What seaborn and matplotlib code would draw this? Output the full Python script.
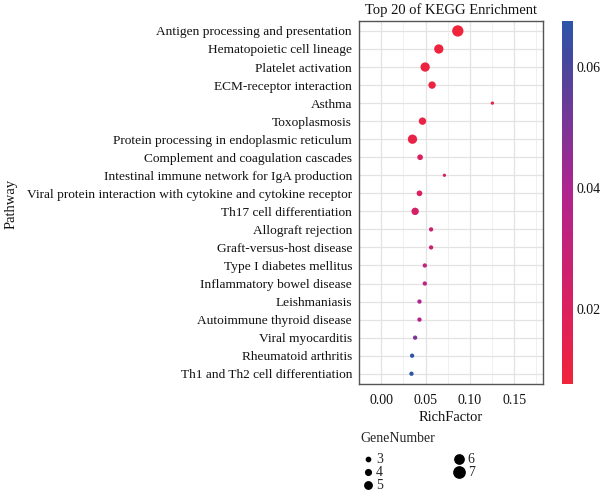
import matplotlib
matplotlib.use("Agg")
import matplotlib.pyplot as plt
import seaborn as sns
import pandas as pd
import numpy as np
from matplotlib.colors import LinearSegmentedColormap, Normalize
from matplotlib.lines import Line2D
from matplotlib.cm import ScalarMappable

pathways = [
    "Antigen processing and presentation",
    "Hematopoietic cell lineage",
    "Platelet activation",
    "ECM-receptor interaction",
    "Asthma",
    "Toxoplasmosis",
    "Protein processing in endoplasmic reticulum",
    "Complement and coagulation cascades",
    "Intestinal immune network for IgA production",
    "Viral protein interaction with cytokine and cytokine receptor",
    "Th17 cell differentiation",
    "Allograft rejection",
    "Graft-versus-host disease",
    "Type I diabetes mellitus",
    "Inflammatory bowel disease",
    "Leishmaniasis",
    "Autoimmune thyroid disease",
    "Viral myocarditis",
    "Rheumatoid arthritis",
    "Th1 and Th2 cell differentiation",
]
rich_factor = [0.0864, 0.0650, 0.0496, 0.0574, 0.1254, 0.0466, 0.0353, 0.0439,
               0.0713, 0.0432, 0.0383, 0.0563, 0.0563, 0.0492, 0.0492, 0.0432,
               0.0432, 0.0383, 0.0349, 0.0342]
gene_number = [7, 6, 6, 5, 2, 5, 6, 4, 2, 4, 5, 3, 3, 3, 3, 3, 3, 3, 3, 3]
pvalue = [0.0078, 0.0095, 0.0100, 0.0105, 0.0110, 0.0115, 0.0125, 0.0200,
          0.0195, 0.0210, 0.0235, 0.0270, 0.0270, 0.0330, 0.0330, 0.0395,
          0.0395, 0.0500, 0.0660, 0.0675]
legend_sizes = [3, 4, 5, 6, 7]
cbar_ticks = [0.02, 0.04, 0.06]
x_ticks = [0.00, 0.05, 0.10, 0.15]

df = pd.DataFrame({"Pathway": pathways, "RichFactor": rich_factor,
                   "GeneNumber": gene_number, "pvalue": pvalue})

cmap = LinearSegmentedColormap.from_list(
    "rb", [(0.0, "#F0243A"), (0.21, "#DA2060"), (0.54, "#AE2490"),
           (0.875, "#4A469C"), (1.0, "#2B55A8")])
norm = Normalize(vmin=0.0077, vmax=0.0676)

diam = {2: 3.3, 3: 4.3, 4: 5.7, 5: 7.4, 6: 9.3, 7: 11.3}
size_map = {v: (d * 0.72) ** 2 for v, d in diam.items()}

fig = plt.figure(figsize=(6.0, 4.92), dpi=100)
sns.set_style("white")
plt.rcParams["font.family"] = ["Liberation Serif", "DejaVu Serif"]

ax = fig.add_axes([0.5983, 0.2195, 0.3072, 0.7385])
sns.scatterplot(data=df, x="RichFactor", y="Pathway", hue="pvalue",
                palette=cmap, hue_norm=norm, size="GeneNumber",
                sizes=size_map, legend=False, linewidth=0, ax=ax, zorder=3)

ax.set_xlim(-0.0248, 0.1828)
ax.set_ylim(19.57, -0.57)
ax.set_xticks(x_ticks)
ax.set_xticklabels([f"{t:.2f}" for t in x_ticks])
ax.set_xticks([-0.025, 0.025, 0.075, 0.125, 0.175], minor=True)
ax.grid(True, which="major", color="#E3E3E3", linewidth=0.9, zorder=0)
ax.grid(True, which="minor", axis="x", color="#EEEEEE", linewidth=0.6, zorder=0)
ax.set_axisbelow(True)
for s in ax.spines.values():
    s.set_color("#555555")
    s.set_linewidth(1.0)
ax.tick_params(axis="both", which="major", length=3, color="#333333",
               labelsize=9.6, labelcolor="#111111", pad=2)
ax.tick_params(axis="x", which="major", labelsize=10, pad=4)
ax.tick_params(axis="x", which="minor", length=0)
ax.set_xlabel("RichFactor", fontsize=10.5, color="#111111", labelpad=3)
ax.set_ylabel("")
fig.text(0.018, 0.585, "Pathway", rotation=90, ha="center", va="center",
         fontsize=10.5, color="#111111")
ax.set_title("Top 20 of KEGG Enrichment", fontsize=10.5, color="#111111", pad=5)

cax = fig.add_axes([0.936, 0.2195, 0.0185, 0.7385])
sm = ScalarMappable(norm=norm, cmap=cmap)
cb = fig.colorbar(sm, cax=cax)
cb.outline.set_visible(False)
cb.set_ticks(cbar_ticks)
cb.set_ticklabels([f"{t:.2f}" for t in cbar_ticks])
cax.tick_params(direction="in", color="white", length=3, width=0.8,
                left=True, right=True, labelsize=10, labelcolor="#111111", pad=3)

# size legend
handles = [Line2D([], [], marker="o", linestyle="", color="black",
                  markersize=np.sqrt(size_map[v]), label=str(v))
           for v in legend_sizes]
leg = fig.legend(handles=handles, title="GeneNumber", ncol=2,
                 loc="upper left", bbox_to_anchor=(0.592, 0.133),
                 frameon=False, fontsize=10, title_fontsize=10,
                 handletextpad=0.1, labelspacing=0.0, columnspacing=5.0,
                 handlelength=1.0, borderaxespad=0)
leg._legend_box.align = "left"
leg._legend_box.sep = 6

fig.savefig("out.png", dpi=100)
